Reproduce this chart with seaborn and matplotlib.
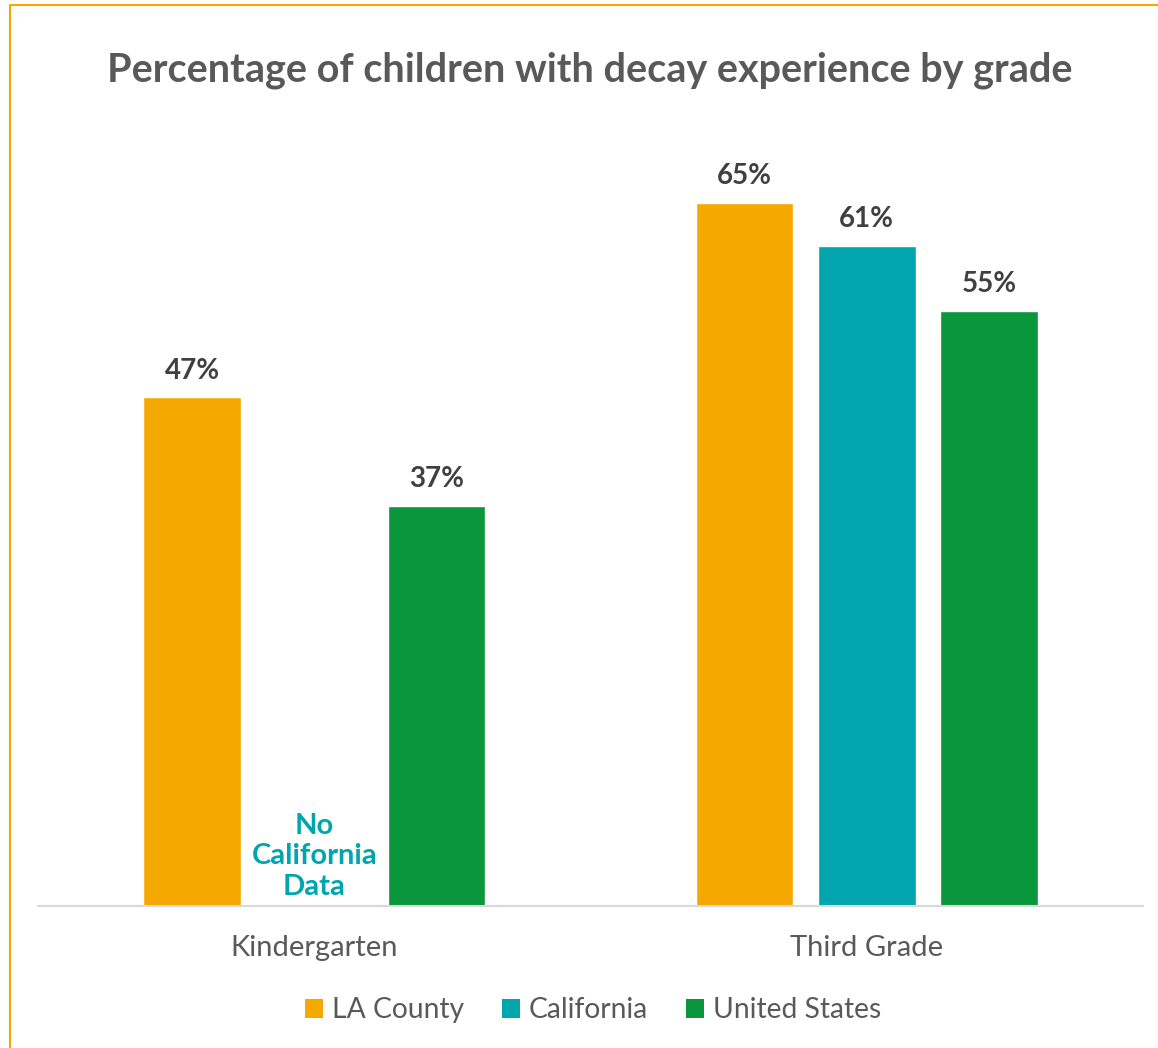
import numpy as np
import pandas as pd
import seaborn as sns
import matplotlib.pyplot as plt
from matplotlib.lines import Line2D
from matplotlib.patches import Patch

grades = ["Kindergarten", "Third Grade"]
series = ["LA County", "California", "United States"]
la_county = [47, 65]
california = [np.nan, 61]
united_states = [37, 55]
colors = ["#F5A800", "#00A5AD", "#0A963C"]

rows = []
for s, vals in zip(series, [la_county, california, united_states]):
    for g, v in zip(grades, vals):
        rows.append({"grade": g, "series": s, "value": v})
df = pd.DataFrame(rows)

sns.set_theme(style="white")
plt.rcParams['font.family'] = ['Lato', 'DejaVu Sans']
text_gray = "#595959"

fig = plt.figure(figsize=(11.58, 10.48), dpi=100)
ax = fig.add_axes([38/1158, 1 - 906/1048, (1143-38)/1158, (906-127)/1048])

sns.barplot(data=df, x="grade", y="value", hue="series", hue_order=series,
            order=grades, palette=colors, width=0.663, gap=0.2, ax=ax,
            legend=False, saturation=1)

ax.set_xlim(-0.5, 1.5)
ax.set_ylim(0, 72)
ax.set_xlabel("")
ax.set_ylabel("")
ax.set_yticks([])
for side in ["left", "right", "top"]:
    ax.spines[side].set_visible(False)
ax.spines["bottom"].set_color("#D9D9D9")
ax.spines["bottom"].set_linewidth(1.5)
ax.tick_params(axis="x", length=0, pad=21, labelsize=21, labelcolor=text_gray)

for p in ax.patches:
    h = p.get_height()
    if h is None or np.isnan(h):
        continue
    ax.annotate(f"{h:.0f}%", (p.get_x() + p.get_width() / 2, h),
                xytext=(0, 10), textcoords="offset points", ha="center", va="bottom",
                fontsize=20, fontweight="bold", color="#404040")

# No California data note
ax.text(0, 4.6, "No\nCalifornia\nData", ha="center", va="center", fontsize=21,
        fontweight="bold", color="#00A5AD", linespacing=1.22)

fig.text(590/1158, 1 - 70/1048, "Percentage of children with decay experience by grade",
         ha="center", va="center", fontsize=28.5, fontweight="bold", color=text_gray)

handles = [Patch(facecolor=c, edgecolor="none") for c in colors]
fig.legend(handles, series, loc="center", bbox_to_anchor=(0.512, 1 - 1010/1048),
           ncol=3, frameon=False, fontsize=20.3, handlelength=0.65, handleheight=0.65,
           handletextpad=0.3, columnspacing=1.35, labelcolor=text_gray)

# orange border (left and top)
fig.add_artist(Line2D([10/1158, 10/1158], [0, 1 - 5/1048], color="#F5A800", lw=1.5,
                      transform=fig.transFigure))
fig.add_artist(Line2D([10/1158, 1], [1 - 5/1048, 1 - 5/1048], color="#F5A800", lw=1.5,
                      transform=fig.transFigure))

fig.savefig("out.png", dpi=100)
